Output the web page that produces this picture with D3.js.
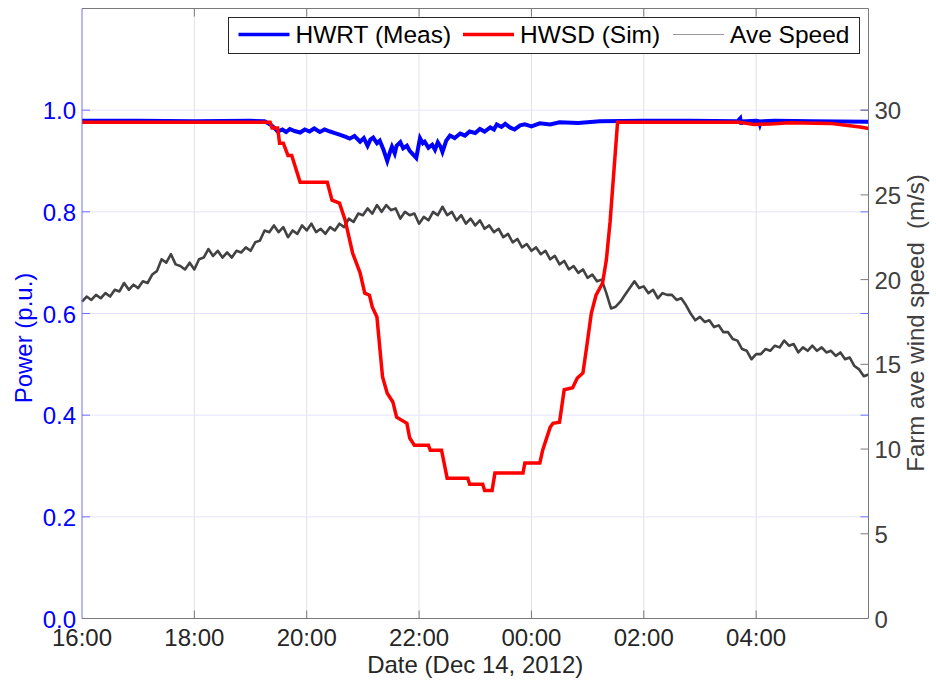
<!DOCTYPE html>
<html>
<head>
<meta charset="utf-8">
<script src="https://cdn.jsdelivr.net/npm/d3@7"></script>
<style>
  body { margin: 0; background: #fff; }
  text { font-family: "Liberation Sans", Arial, sans-serif; }
</style>
</head>
<body>
<script>
// measured power, minutes after 16:00 on Dec 14
const hwrtMin = [0, 60, 120, 180, 195, 201, 205, 209, 214, 218, 222, 227, 233, 238, 243, 248, 254, 259, 265, 270,
  275, 281, 286, 291, 297, 301, 305, 308, 311, 315, 318, 322, 326, 329, 331, 334, 336, 340, 343, 347,
  350, 354, 357, 361, 364, 366, 370, 374, 377, 380, 383, 385, 389, 393, 398, 404, 409, 414, 420, 425,
  430, 436, 440, 443, 448, 452, 457, 462, 468, 473, 480, 489, 500, 510, 530, 553, 600, 650, 700, 703,
  704, 705, 720, 723, 724, 725, 740, 780, 840];
const hwrtVal = [0.979, 0.979, 0.978, 0.979, 0.978, 0.972, 0.966, 0.958, 0.962, 0.957, 0.963, 0.959, 0.956, 0.962, 0.958, 0.964, 0.957, 0.962, 0.958, 0.955,
  0.952, 0.948, 0.944, 0.949, 0.938, 0.945, 0.930, 0.942, 0.946, 0.935, 0.940, 0.922, 0.900, 0.918, 0.928, 0.915, 0.930, 0.937, 0.925, 0.930,
  0.920, 0.912, 0.906, 0.945, 0.935, 0.938, 0.926, 0.932, 0.922, 0.937, 0.928, 0.918, 0.940, 0.950, 0.945, 0.954, 0.950, 0.958, 0.955, 0.963,
  0.958, 0.966, 0.962, 0.972, 0.967, 0.973, 0.966, 0.962, 0.970, 0.972, 0.968, 0.974, 0.972, 0.976, 0.975, 0.978, 0.979, 0.979, 0.978, 0.984,
  0.972, 0.978, 0.979, 0.978, 0.972, 0.978, 0.979, 0.978, 0.977];

// simulated power
const hwsdMin = [0, 100, 201, 203, 209, 211, 215, 220, 224, 233, 262, 267, 275, 281, 289, 297, 302, 307, 310, 315,
  318, 321, 326, 332, 336, 347, 350, 355, 370, 372, 384, 390, 412, 414, 428, 430, 438, 441, 471, 473,
  489, 492, 500, 503, 510, 515, 524, 529, 535, 539, 544, 549, 556, 560, 564, 572, 620, 702, 718, 735,
  756, 799, 818, 831, 840];
const hwsdVal = [0.976, 0.976, 0.976, 0.965, 0.965, 0.935, 0.935, 0.911, 0.911, 0.858, 0.858, 0.823, 0.817, 0.784, 0.719, 0.680, 0.640, 0.636, 0.613, 0.593,
  0.534, 0.475, 0.443, 0.426, 0.396, 0.384, 0.355, 0.341, 0.341, 0.331, 0.331, 0.276, 0.276, 0.264, 0.264, 0.252, 0.252, 0.286, 0.286, 0.306,
  0.306, 0.331, 0.376, 0.384, 0.386, 0.450, 0.454, 0.473, 0.483, 0.534, 0.601, 0.636, 0.660, 0.705, 0.780, 0.976, 0.976, 0.976, 0.972, 0.973,
  0.975, 0.974, 0.970, 0.967, 0.964];

// farm average wind speed (m/s), one sample every 5 minutes from 16:00
const speedVal = [
  18.7, 19.0, 18.8, 19.1, 18.9, 19.2, 19.0, 19.4, 19.3, 19.8,
  19.4, 19.7, 19.5, 19.9, 19.8, 20.3, 20.5, 21.2, 21.0, 21.5,
  20.9, 20.8, 20.6, 21.0, 20.6, 21.2, 21.3, 21.8, 21.4, 21.7,
  21.3, 21.6, 21.3, 21.7, 21.6, 21.9, 21.7, 22.2, 22.3, 22.9,
  22.8, 23.2, 22.8, 23.1, 22.5, 22.9, 22.7, 23.2, 22.9, 23.3,
  22.8, 23.0, 22.7, 23.1, 22.9, 23.3, 23.1, 23.6, 23.4, 23.9,
  23.8, 24.2, 23.9, 24.4, 24.0, 24.4, 24.1, 24.2, 23.6, 24.0,
  23.8, 23.9, 23.3, 23.7, 23.5, 24.0, 23.8, 24.3, 23.8, 24.0,
  23.5, 23.8, 23.3, 23.6, 23.2, 23.5, 23.0, 23.2, 22.8, 23.0,
  22.5, 22.7, 22.2, 22.4, 21.9, 22.1, 21.7, 21.9, 21.5, 21.7,
  21.2, 21.4, 20.9, 21.1, 20.6, 20.8, 20.4, 20.6, 20.1, 20.3,
  19.9, 20.0, 19.2, 18.3, 18.4, 18.7, 19.1, 19.5, 19.9, 19.5,
  19.6, 19.2, 19.4, 18.9, 19.2, 19.1, 19.1, 18.8, 18.9, 18.5,
  18.0, 17.6, 17.8, 17.5, 17.6, 17.2, 17.3, 16.9, 16.9, 16.5,
  16.4, 15.9, 15.8, 15.3, 15.6, 15.6, 15.9, 15.8, 16.1, 16.0,
  16.4, 16.1, 16.2, 15.7, 16.0, 15.8, 16.1, 15.8, 16.0, 15.7,
  15.8, 15.5, 15.7, 15.3, 15.4, 14.9, 14.7, 14.3, 14.4];

const powerTicks = [0, 0.2, 0.4, 0.6, 0.8, 1.0];
const speedTicks = [0, 5, 10, 15, 20, 25, 30];
const legendNames = ["HWRT (Meas)", "HWSD (Sim)", "Ave Speed"];

var W = 936, H = 682;
var margin = {top: 8.5, right: 67.5, bottom: 63.5, left: 82};
var iw = W - margin.left - margin.right,
    ih = H - margin.top - margin.bottom;

var t0 = new Date(2012, 11, 14, 16, 0);
var t1 = new Date(2012, 11, 15, 6, 0);
var at = m => d3.timeMinute.offset(t0, m);

var x = d3.scaleTime().domain([t0, t1]).range([0, iw]);
var yL = d3.scaleLinear().domain([0, 1.2]).range([ih, 0]);
var yR = d3.scaleLinear().domain([0, 36]).range([ih, 0]);   // 30 lines up with 1.0

var blue = "#0000ff", red = "#ff0000", axisGray = "#7a7a7a", fs = 24;

var svg = d3.select("body").append("svg")
    .attr("width", W)
    .attr("height", H);
var g = svg.append("g")
    .attr("transform", "translate(" + margin.left + "," + margin.top + ")");

var xTicks = d3.timeHour.every(2).range(t0, t1);

// grid
g.append("g").selectAll("line")
  .data(xTicks.slice(1))
  .join("line")
    .attr("x1", d => x(d)).attr("x2", d => x(d))
    .attr("y1", 0).attr("y2", ih)
    .attr("stroke", "#e2e2e2").attr("stroke-width", 1);
g.append("g").selectAll("line")
  .data(powerTicks.slice(1))
  .join("line")
    .attr("x1", 0).attr("x2", iw)
    .attr("y1", d => yL(d)).attr("y2", d => yL(d))
    .attr("stroke", "#e4e4ff").attr("stroke-width", 1);

// lines
var speedLine = d3.line().x((d, i) => x(at(i * 5))).y(d => yR(d));
var powLine = d3.line().x(d => x(at(d[0]))).y(d => yL(d[1]));

g.append("path")
    .datum(speedVal)
    .attr("fill", "none")
    .attr("stroke", "#424242")
    .attr("stroke-width", 2.6)
    .attr("stroke-linejoin", "round")
    .attr("d", speedLine);

g.append("path")
    .datum(hwrtMin.map((m, i) => [m, hwrtVal[i]]))
    .attr("fill", "none")
    .attr("stroke", blue)
    .attr("stroke-width", 4)
    .attr("d", powLine);

g.append("path")
    .datum(hwsdMin.map((m, i) => [m, hwsdVal[i]]))
    .attr("fill", "none")
    .attr("stroke", red)
    .attr("stroke-width", 3.5)
    .attr("d", powLine);

// box + ticks (matlab style, ticks inward)
var tk = 8;
g.append("line").attr("x1", 0).attr("x2", iw).attr("y1", ih).attr("y2", ih).attr("stroke", axisGray);
g.append("line").attr("x1", 0).attr("x2", iw).attr("y1", 0).attr("y2", 0).attr("stroke", axisGray);
g.append("line").attr("x1", iw).attr("x2", iw).attr("y1", 0).attr("y2", ih).attr("stroke", axisGray);
g.append("line").attr("x1", 0).attr("x2", 0).attr("y1", 0).attr("y2", ih).attr("stroke", "#7070ff");

xTicks.slice(1).forEach(function(d) {
  g.append("line").attr("x1", x(d)).attr("x2", x(d)).attr("y1", ih).attr("y2", ih - tk).attr("stroke", axisGray);
  g.append("line").attr("x1", x(d)).attr("x2", x(d)).attr("y1", 0).attr("y2", tk).attr("stroke", axisGray);
});
powerTicks.slice(1).forEach(function(d) {
  g.append("line").attr("x1", 0).attr("x2", tk).attr("y1", yL(d)).attr("y2", yL(d)).attr("stroke", "#7070ff");
  g.append("line").attr("x1", iw).attr("x2", iw - tk).attr("y1", yL(d)).attr("y2", yL(d)).attr("stroke", "#7070ff");
});
speedTicks.slice(1).forEach(function(d) {
  g.append("line").attr("x1", iw).attr("x2", iw - tk).attr("y1", yR(d)).attr("y2", yR(d)).attr("stroke", axisGray);
});

// tick labels
g.append("g").selectAll("text")
  .data(xTicks)
  .join("text")
    .attr("x", d => x(d)).attr("y", ih + 27.5)
    .attr("text-anchor", "middle")
    .attr("font-size", fs).attr("fill", "#262626")
    .text(d3.timeFormat("%H:%M"));
g.append("g").selectAll("text")
  .data(powerTicks)
  .join("text")
    .attr("x", -6).attr("y", d => yL(d) + 9)
    .attr("text-anchor", "end")
    .attr("font-size", fs).attr("fill", blue)
    .text(d3.format(".1f"));
g.append("g").selectAll("text")
  .data(speedTicks)
  .join("text")
    .attr("x", iw + 6).attr("y", d => yR(d) + 9)
    .attr("font-size", fs).attr("fill", "#404040")
    .text(d => d);

// axis titles
svg.append("text")
    .attr("x", margin.left + iw / 2).attr("y", 673)
    .attr("text-anchor", "middle")
    .attr("font-size", fs).attr("fill", "#262626")
    .text("Date (Dec 14, 2012)");
svg.append("text")
    .attr("transform", "translate(32,338) rotate(-90)")
    .attr("text-anchor", "middle")
    .attr("font-size", fs).attr("fill", blue)
    .text("Power (p.u.)");
svg.append("text")
    .attr("transform", "translate(924,323) rotate(-90)")
    .attr("text-anchor", "middle")
    .attr("font-size", fs).attr("fill", "#404040")
    .style("white-space", "pre")
    .text("Farm ave wind speed  (m/s)");

// legend
var leg = svg.append("g");
leg.append("rect")
    .attr("x", 228.5).attr("y", 17.5)
    .attr("width", 631).attr("height", 36)
    .attr("fill", "#fff").attr("stroke", "#262626").attr("stroke-width", 1);
var legItems = [
  {name: legendNames[0], color: blue, w: 3.5, x0: 238.5},
  {name: legendNames[1], color: red, w: 3.5, x0: 463},
  {name: legendNames[2], color: "#9a9a9a", w: 1, x0: 673}
];
legItems.forEach(function(d) {
  leg.append("line")
      .attr("x1", d.x0).attr("x2", d.x0 + 51)
      .attr("y1", 34.5).attr("y2", 34.5)
      .attr("stroke", d.color).attr("stroke-width", d.w);
  leg.append("text")
      .attr("x", d.x0 + 57).attr("y", 43)
      .attr("font-size", 24.5).attr("fill", "#000")
      .text(d.name);
});
</script>
</body>
</html>
